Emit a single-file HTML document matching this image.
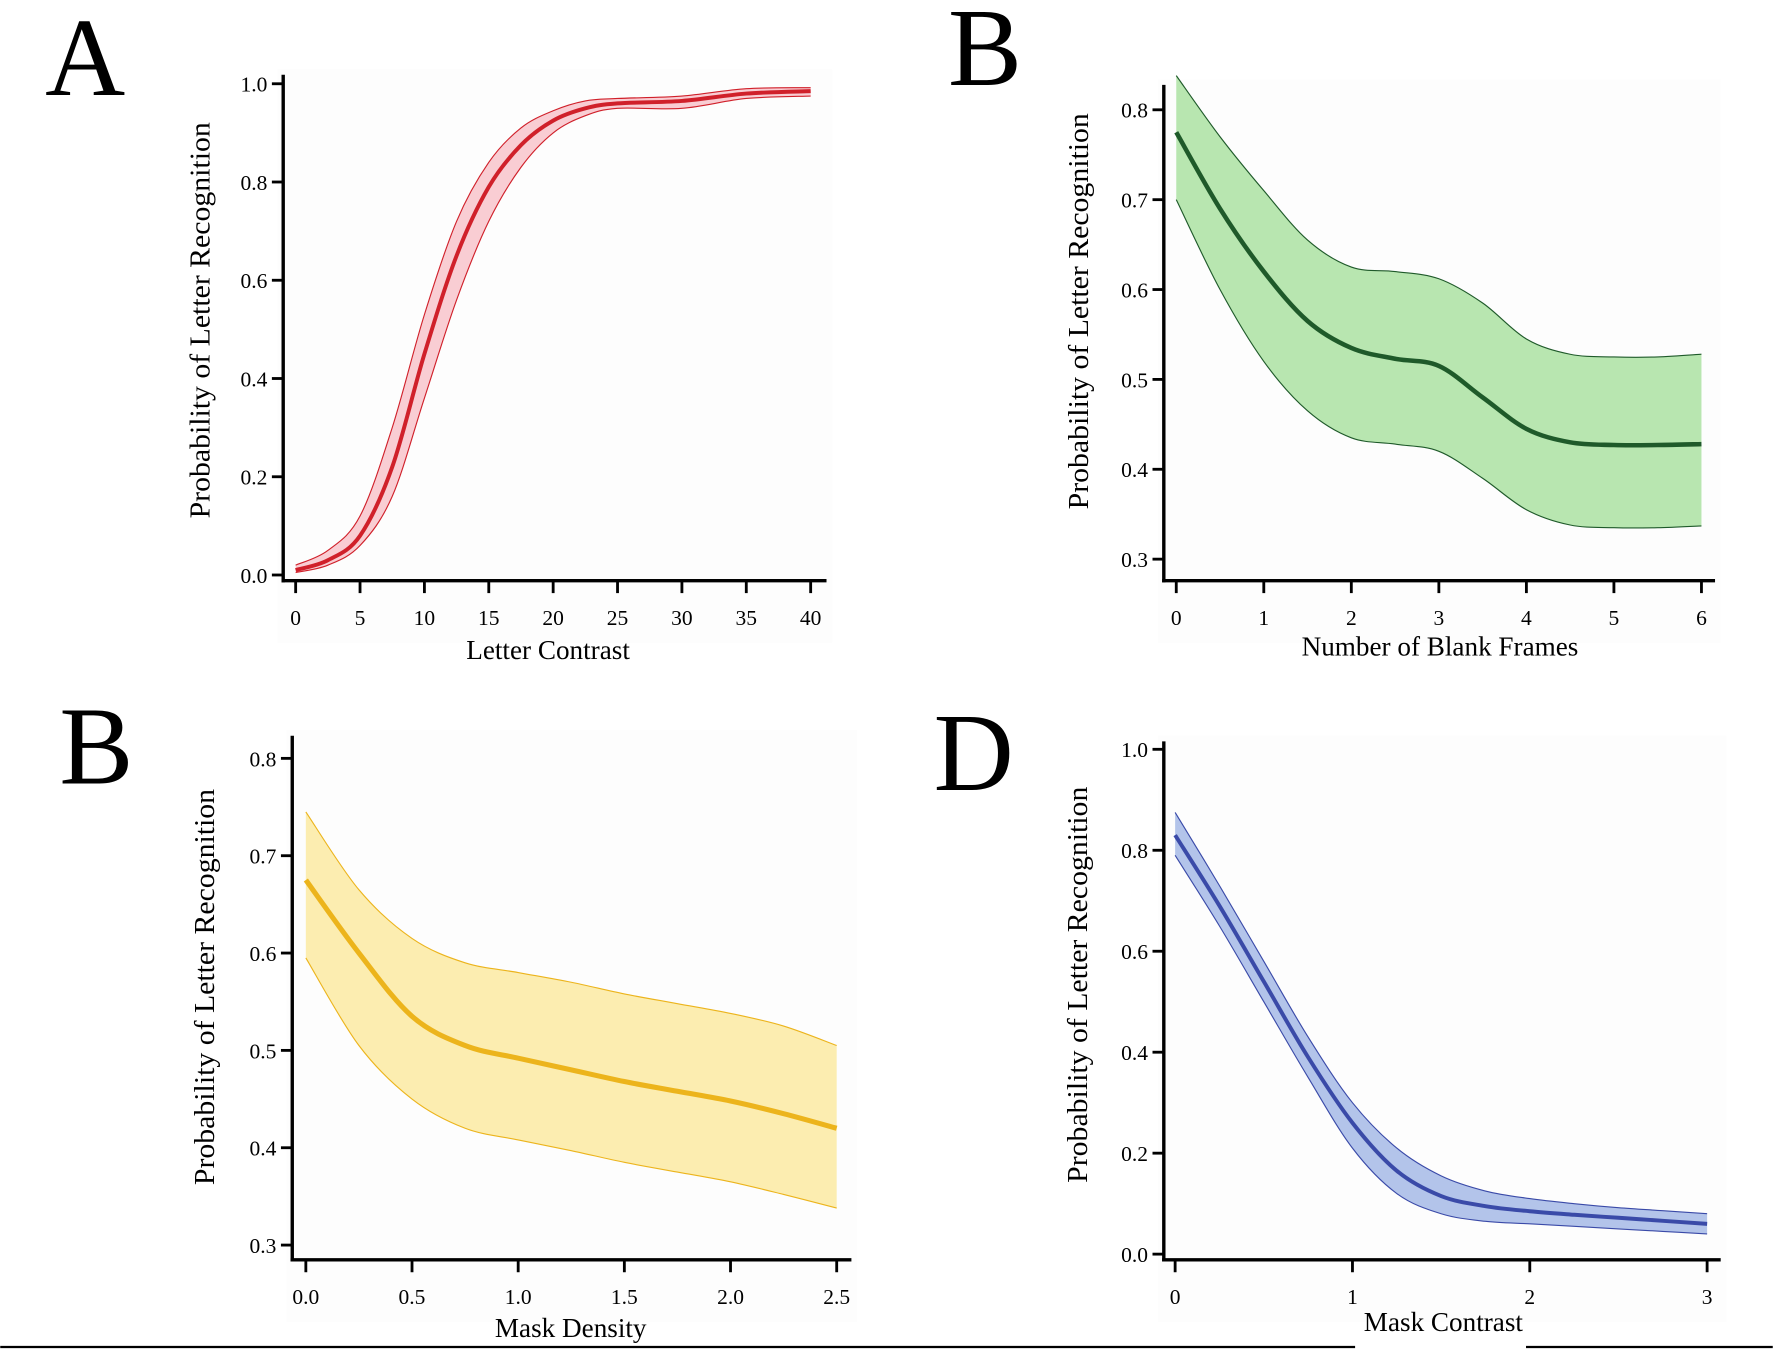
<!DOCTYPE html>
<html><head><meta charset="utf-8"><style>
html,body{margin:0;padding:0;background:#fff}
svg{display:block;font-family:"Liberation Serif",serif}
</style></head><body>
<svg id="fig" width="1773" height="1356" viewBox="0 0 1566 1198" xmlns="http://www.w3.org/2000/svg">
<rect width="1566" height="1198" fill="#fff"/>
<g id="root"></g>
<line x1="0" y1="1190" x2="1197" y2="1190" stroke="#000" stroke-width="2"/>
<line x1="1348" y1="1190" x2="1566" y2="1190" stroke="#000" stroke-width="2"/>
</svg>
<script>
// Panel A data
const aX=[0,2.5,5,7.5,10,12.5,15,17.5,20,22.5,25,30,35,40];
const aMean=[0.01,0.03,0.08,0.22,0.45,0.65,0.79,0.875,0.925,0.95,0.96,0.965,0.98,0.985];
const aLo=[0.005,0.02,0.06,0.16,0.36,0.56,0.72,0.83,0.9,0.935,0.95,0.95,0.97,0.975];
const aHi=[0.02,0.05,0.12,0.3,0.53,0.72,0.84,0.91,0.945,0.965,0.97,0.975,0.99,0.992];
const aXTicks=[0,5,10,15,20,25,30,35,40];
const aYTicks=[0,0.2,0.4,0.6,0.8,1.0];
// Panel B data
const bX=[0,0.5,1,1.5,2,2.5,3,3.5,4,4.5,5,5.5,6];
const bMean=[0.775,0.69,0.62,0.565,0.535,0.523,0.515,0.48,0.445,0.43,0.427,0.427,0.428];
const bLo=[0.70,0.60,0.52,0.465,0.435,0.428,0.42,0.39,0.355,0.338,0.335,0.335,0.337];
const bHi=[0.838,0.77,0.71,0.655,0.625,0.62,0.612,0.585,0.545,0.528,0.525,0.525,0.528];
const bXTicks=[0,1,2,3,4,5,6];
const bYTicks=[0.3,0.4,0.5,0.6,0.7,0.8];
// Panel C data
const cX=[0,0.25,0.5,0.75,1,1.25,1.5,1.75,2,2.25,2.5];
const cMean=[0.675,0.6,0.535,0.505,0.492,0.48,0.468,0.458,0.448,0.435,0.42];
const cLo=[0.595,0.505,0.45,0.42,0.408,0.397,0.385,0.375,0.365,0.352,0.338];
const cHi=[0.745,0.665,0.615,0.59,0.58,0.57,0.558,0.548,0.538,0.525,0.505];
const cXTicks=[0,0.5,1,1.5,2,2.5];
const cYTicks=[0.3,0.4,0.5,0.6,0.7,0.8];
// Panel D data
const dX=[0,0.25,0.5,0.75,1,1.25,1.5,1.75,2,2.25,2.5,2.75,3];
const dMean=[0.83,0.69,0.54,0.39,0.26,0.165,0.115,0.095,0.085,0.078,0.072,0.066,0.06];
const dLo=[0.79,0.65,0.5,0.35,0.21,0.12,0.08,0.065,0.06,0.055,0.05,0.045,0.04];
const dHi=[0.875,0.73,0.58,0.43,0.3,0.21,0.155,0.125,0.11,0.1,0.092,0.086,0.08];
const dXTicks=[0,1,2,3];
const dYTicks=[0,0.2,0.4,0.6,0.8,1.0];

const NS="http://www.w3.org/2000/svg";
const root=document.getElementById('root');
function mk(tag,attrs,parent){const e=document.createElementNS(NS,tag);for(const k in attrs)e.setAttribute(k,attrs[k]);(parent||root).appendChild(e);return e;}
function smooth(pts){let d='M'+pts[0][0]+','+pts[0][1];for(let i=0;i<pts.length-1;i++){const p0=pts[i-1]||pts[i],p1=pts[i],p2=pts[i+1],p3=pts[i+2]||p2;const c1=[p1[0]+(p2[0]-p0[0])/6,p1[1]+(p2[1]-p0[1])/6],c2=[p2[0]-(p3[0]-p1[0])/6,p2[1]-(p3[1]-p1[1])/6];d+=' C'+c1+' '+c2+' '+p2;}return d;}
function panel(o){
 const g=mk('g',{});
 
 
 const sx=v=>o.x0px+(v-o.xmin)*(o.x1px-o.x0px)/(o.xmax-o.xmin);
 const sy=v=>o.y0px+(v-o.ymin)*(o.y1px-o.y0px)/(o.ymax-o.ymin);
 mk('rect',{x:o.ax-5,y:o.ayTop-5,width:o.axRight-o.ax+10,height:o.ay-o.ayTop+60,fill:'#fdfdfd'},g);
 const hi=o.x.map((v,i)=>[sx(v),sy(o.hi[i])]),lo=o.x.map((v,i)=>[sx(v),sy(o.lo[i])]);
 const band=mk('path',{d:smooth(hi)+' L'+smooth(lo.slice().reverse()).slice(1)+' Z',fill:o.fill,stroke:'none'},g);
 
 
 mk('path',{d:smooth(hi),fill:'none',stroke:o.line,'stroke-width':1},g);
 mk('path',{d:smooth(lo),fill:'none',stroke:o.line,'stroke-width':1},g);
 const ln=mk('path',{d:smooth(o.x.map((v,i)=>[sx(v),sy(o.mean[i])])),fill:'none',stroke:o.line,'stroke-width':o.lw},g);
 
 
 const ya=mk('line',{x1:o.ax,y1:o.ayTop,x2:o.ax,y2:o.ay+1.5,stroke:'#000','stroke-width':3},g);
 
 
 const xa=mk('line',{x1:o.ax-1.5,y1:o.ay,x2:o.axRight,y2:o.ay,stroke:'#000','stroke-width':3},g);
 
 
 o.yt.forEach(v=>{const y=sy(v);mk('line',{x1:o.ax-10,y1:y,x2:o.ax,y2:y,stroke:'#000','stroke-width':2.5},g);
  const t=mk('text',{x:o.ax-14,y:y+7,'text-anchor':'end','font-size':19},g);t.textContent=v.toFixed(1);
  
  });
 o.xt.forEach(v=>{const x=sx(v);mk('line',{x1:x,y1:o.ay,x2:x,y2:o.ay+11,stroke:'#000','stroke-width':2.5},g);
  const t=mk('text',{x:x,y:o.ay+39,'text-anchor':'middle','font-size':19},g);t.textContent=o.xfmt(v);
  
  });
 const xl=mk('text',{x:o.xlx,y:o.xly,'text-anchor':'middle','font-size':24},g);xl.textContent=o.xlabel;
 
 
 const yl=mk('text',{x:0,y:0,'text-anchor':'middle','font-size':25,textLength:350,lengthAdjust:'spacingAndGlyphs',transform:`translate(${o.ylx},${o.yly}) rotate(-90)`},g);yl.textContent='Probability of Letter Recognition';
 
 
 const L=mk('text',{x:o.lx,y:o.ly,'text-anchor':'middle','font-size':98},g);L.textContent=o.letter;
 
 
}
panel({name:'panel-a',x:aX,mean:aMean,lo:aLo,hi:aHi,xt:aXTicks,yt:aYTicks,xmin:0,xmax:40,x0px:261,x1px:716,ymin:0,ymax:1,y0px:508,y1px:74,ax:250,ay:513,ayTop:66,axRight:730,fill:'#f9cdd3',line:'#d0202a',lw:3.5,xfmt:v=>String(v),xlabel:'Letter Contrast',xlx:484,xly:582,ylx:185,yly:283,letter:'A',lx:75,ly:84});
panel({name:'panel-b',x:bX,mean:bMean,lo:bLo,hi:bHi,xt:bXTicks,yt:bYTicks,xmin:0,xmax:6,x0px:1039,x1px:1503,ymin:0.3,ymax:0.8,y0px:494,y1px:97,ax:1028,ay:513,ayTop:75,axRight:1515,fill:'#b8e6b0',line:'#1f5a2a',lw:4,xfmt:v=>String(v),xlabel:'Number of Blank Frames',xlx:1272,xly:579,ylx:961,yly:275,letter:'B',lx:870,ly:75});
panel({name:'panel-c',x:cX,mean:cMean,lo:cLo,hi:cHi,xt:cXTicks,yt:cYTicks,xmin:0,xmax:2.5,x0px:270,x1px:739,ymin:0.3,ymax:0.8,y0px:1100,y1px:670,ax:258,ay:1113,ayTop:650,axRight:752,fill:'#fcedb0',line:'#ecb41c',lw:4.5,xfmt:v=>v.toFixed(1),xlabel:'Mask Density',xlx:504,xly:1181,ylx:189,yly:872,letter:'B',lx:85,ly:692});
panel({name:'panel-d',x:dX,mean:dMean,lo:dLo,hi:dHi,xt:dXTicks,yt:dYTicks,xmin:0,xmax:3,x0px:1038,x1px:1508,ymin:0,ymax:1,y0px:1108,y1px:662,ax:1028,ay:1113,ayTop:655,axRight:1520,fill:'#b3c4ea',line:'#3a4aa8',lw:3.5,xfmt:v=>String(v),xlabel:'Mask Contrast',xlx:1275,xly:1176,ylx:960,yly:870,letter:'D',lx:860,ly:698});
</script>
</body></html>
